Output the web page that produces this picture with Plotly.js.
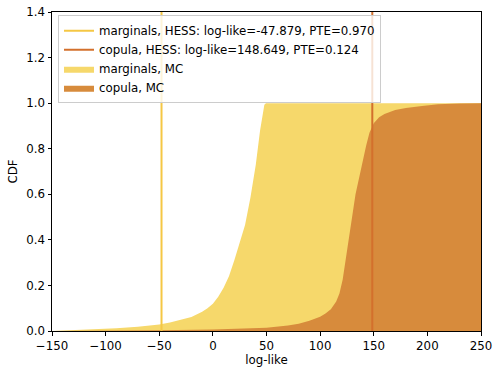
<!DOCTYPE html>
<html>
<head>
<meta charset="utf-8">
<script src="https://cdn.plot.ly/plotly-3.0.1.min.js"></script>
<style>
  html, body { margin: 0; padding: 0; background: #fff; }
  #plot { width: 493px; height: 367px; }
</style>
</head>
<body>
<div id="plot"></div>
<script>
// Empirical CDF of Monte Carlo log-likelihoods, marginals model
const margX = [-150, -130, -110, -90, -70, -60, -50, -40, -30, -20, -10, -5, 0, 5, 10, 15, 20, 25, 30, 35, 40, 44, 46.5, 48, 49.5, 250];
const margY = [0, 0.003, 0.007, 0.012, 0.019, 0.023, 0.029, 0.037, 0.048, 0.061, 0.085, 0.100, 0.120, 0.150, 0.190, 0.240, 0.310, 0.385, 0.465, 0.585, 0.730, 0.880, 0.965, 0.993, 1.0, 1.0];

// Empirical CDF of Monte Carlo log-likelihoods, copula model
const copX = [-150, -100, -50, 0, 25, 50, 70, 80, 90, 100, 105, 110, 115, 118, 121, 124, 127, 130, 133, 136, 140, 143, 146, 150, 155, 160, 170, 180, 195, 210, 230, 250];
const copY = [0, 0.001, 0.003, 0.007, 0.009, 0.014, 0.024, 0.032, 0.045, 0.063, 0.077, 0.095, 0.130, 0.165, 0.225, 0.320, 0.430, 0.525, 0.600, 0.665, 0.755, 0.815, 0.870, 0.912, 0.938, 0.952, 0.970, 0.979, 0.988, 0.995, 0.998, 1.0];

// Observed (HESS) log-likelihoods and their PTEs
const hessMarg = -47.879, pteMarg = 0.970;
const hessCop = 148.649, pteCop = 0.124;

const yRange = [0, 1.4];
const xTicks = [-150, -100, -50, 0, 50, 100, 150, 200, 250];
const yTicks = [0, 0.2, 0.4, 0.6, 0.8, 1.0, 1.2, 1.4];

const colMargLine = '#f5c744', colCopLine = '#d3702c';
const colMargFill = '#f6d86b', colCopFill = '#d78b3c';

const FONT = 'DejaVu Sans';
const FS = 11.8;

const traces = [
  {
    x: margX, y: margY, type: 'scatter', mode: 'lines', fill: 'tozeroy',
    fillcolor: colMargFill, line: {width: 0, color: colMargFill},
    name: 'marginals, MC', legendrank: 3
  },
  {
    x: copX, y: copY, type: 'scatter', mode: 'lines', fill: 'tozeroy',
    fillcolor: colCopFill, line: {width: 0, color: colCopFill},
    name: 'copula, MC', legendrank: 4
  },
  {
    x: [hessMarg, hessMarg], y: yRange, type: 'scatter', mode: 'lines',
    line: {width: 2, color: colMargLine},
    name: 'marginals, HESS: log-like=' + hessMarg.toFixed(3) + ', PTE=' + pteMarg.toFixed(3),
    legendrank: 1
  },
  {
    x: [hessCop, hessCop], y: yRange, type: 'scatter', mode: 'lines',
    line: {width: 2, color: colCopLine},
    name: 'copula, HESS: log-like=' + hessCop.toFixed(3) + ', PTE=' + pteCop.toFixed(3),
    legendrank: 2
  }
];

const axisCommon = {
  showline: true, linecolor: '#000', linewidth: 1, mirror: true,
  ticks: 'outside', ticklen: 3.5, tickwidth: 1, tickcolor: '#000',
  showgrid: false, zeroline: false,
  tickfont: {family: FONT, size: FS, color: '#000'}
};

const layout = {
  width: 493, height: 367,
  margin: {l: 52, r: 12, t: 12, b: 36},
  paper_bgcolor: '#fff', plot_bgcolor: '#fff',
  font: {family: FONT, size: FS, color: '#000'},
  showlegend: true,
  legend: {
    x: 0.014, y: 0.99, xanchor: 'left', yanchor: 'top',
    bgcolor: 'rgba(255,255,255,0.8)', bordercolor: '#cccccc', borderwidth: 1,
    font: {family: FONT, size: FS, color: '#000'},
    tracegroupgap: 0, itemwidth: 30
  },
  xaxis: Object.assign({}, axisCommon, {
    range: [-150, 250], tickvals: xTicks,
    title: {text: 'log-like', font: {family: FONT, size: FS, color: '#000'}, standoff: 3}
  }),
  yaxis: Object.assign({}, axisCommon, {
    range: yRange, tickvals: yTicks, tickformat: '.1f',
    title: {text: 'CDF', font: {family: FONT, size: FS, color: '#000'}, standoff: 6}
  })
};

Plotly.newPlot('plot', traces, layout, {staticPlot: true, displayModeBar: false});
</script>
</body>
</html>
